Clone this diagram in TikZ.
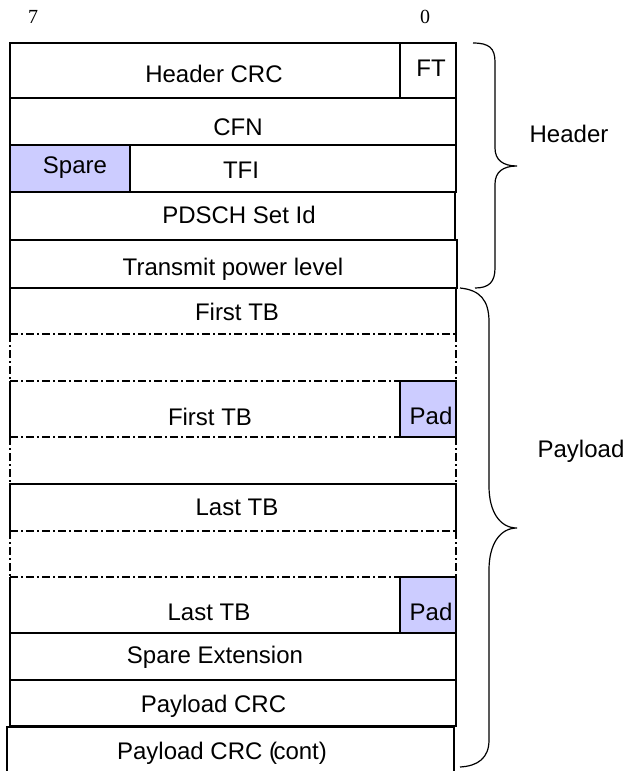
\documentclass[tikz,border=0pt]{standalone}
\usepackage{fontspec}
\setmainfont{Liberation Sans}
\newfontfamily\numfont{Liberation Serif}
\definecolor{lav}{RGB}{204,204,255}
\begin{document}
\begin{tikzpicture}[x=0.75pt,y=-0.75pt,
  line/.style={draw=black,line width=0.95pt},
  dd/.style={line,dash pattern=on 6pt off 2.25pt on 1.5pt off 2.25pt},
  padbox/.style={line,fill=lav},
  lbl/.style={anchor=base,inner sep=0pt,font=\fontsize{18}{20}\selectfont},
  num/.style={anchor=base,inner sep=0pt,font=\numfont\fontsize{15}{17}\selectfont},
  bracepath/.style={draw=black,line width=0.9pt}]
\useasboundingbox (0,0) rectangle (629,771);
% header rows
\draw[line] (10,43) rectangle (456,98);
\draw[line] (400,43) -- (400,98);
\draw[line] (10,98) rectangle (456,145);
\fill[lav] (10,145) rectangle (130,192);
\draw[line] (10,145) rectangle (456,192);
\draw[line] (130,145) -- (130,192);
\draw[line] (10,192) rectangle (455,240);
\draw[line] (10,240) rectangle (457,288);
% first TB
\draw[line] (10,334) -- (10,288) -- (456,288) -- (456,334);
\draw[dd] (10,334) -- (456,334);
\draw[dd] (10,334) -- (10,381);
\draw[dd] (456,334) -- (456,381);
\draw[dd] (10,381) -- (400,381);
\draw[line] (10,381) -- (10,437);
\draw[padbox] (400,381) rectangle (456,437);
\draw[dd] (10,437) -- (400,437);
\draw[dd] (10,437) -- (10,484);
\draw[dd] (456,437) -- (456,484);
% last TB
\draw[line] (10,531) -- (10,484) -- (456,484) -- (456,531);
\draw[dd] (10,531) -- (456,531);
\draw[dd] (10,531) -- (10,577);
\draw[dd] (456,531) -- (456,577);
\draw[dd] (10,577) -- (400,577);
\draw[line] (10,577) -- (10,633) -- (400,633);
\draw[padbox] (400,577) rectangle (456,633);
\draw[line] (10,633) rectangle (456,680);
\draw[line] (10,680) rectangle (456,726);
\draw[line] (7,771) -- (7,727) -- (454,727) -- (454,771);
% braces
\draw[bracepath] (473,43) .. controls (489,43) and (495,48) .. (495,62) -- (495,148)
  .. controls (495,160) and (503,166) .. (517,166)
  .. controls (503,166) and (495,172) .. (495,184) -- (495,268)
  .. controls (495,282) and (489,288) .. (475,288);
\draw[bracepath] (460,288) .. controls (480,290) and (489,300) .. (489,322) -- (489,486)
  .. controls (489,512) and (500,528) .. (517,528)
  .. controls (500,528) and (489,544) .. (489,570) -- (489,740)
  .. controls (489,758) and (478,766) .. (460,767);
% labels
\node[num] (b7) at (33,23) {7};
\node[num] (b0) at (425,23) {0};
\node[lbl] (hcrc) at (214,82) {Header CRC};
\node[lbl] (ft) at (431,76) {FT};
\node[lbl] (cfn) at (238,135) {CFN};
\node[lbl] (spare) at (75,173) {Spare};
\node[lbl] (tfi) at (241,178) {TFI};
\node[lbl] (pdsch) at (239,223) {PDSCH Set Id};
\node[lbl] (tpl) at (233,275) {Transmit power level};
\node[lbl] (ftb1) at (237,320) {First TB};
\node[lbl] (ftb2) at (210,425) {First TB};
\node[lbl] (pad1) at (431,424) {Pad};
\node[lbl] (ltb1) at (237,515) {Last TB};
\node[lbl] (ltb2) at (209,620) {Last TB};
\node[lbl] (pad2) at (431,620) {Pad};
\node[lbl] (spext) at (215,663) {Spare Extension};
\node[lbl] (pcrc) at (213.5,712) {Payload CRC};
\node[lbl] (pcrcc) at (222,759) {Payload CRC (\kern-0.15em cont)};
\node[lbl] (hdr) at (569,142) {Header};
\node[lbl] (pl) at (581,457) {Payload};
\end{tikzpicture}
\end{document}
